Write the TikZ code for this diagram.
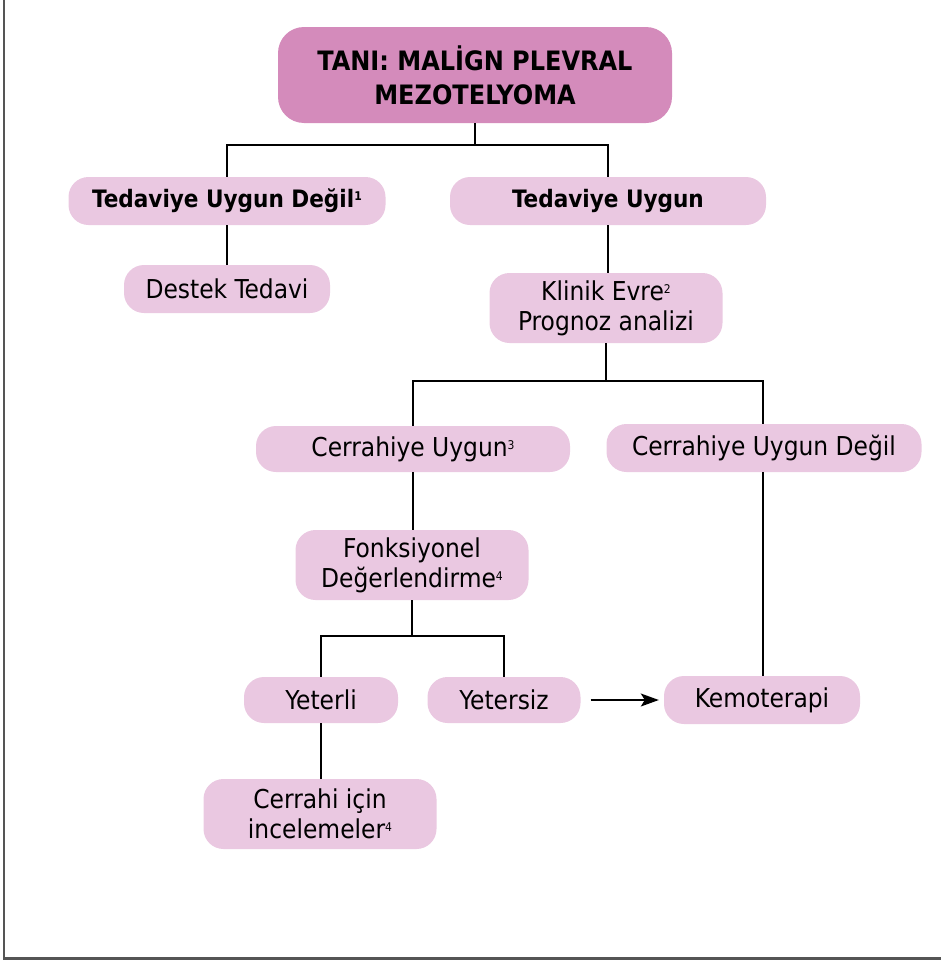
\documentclass[tikz,border=0pt]{standalone}
\usepackage{fontspec}
\setmainfont{DejaVu Sans Condensed}
\usetikzlibrary{arrows.meta}
\definecolor{rootfill}{HTML}{D48BBB}
\definecolor{boxfill}{HTML}{EAC8E1}
\definecolor{framegray}{HTML}{555555}
\newcommand{\supnum}[1]{\raisebox{7pt}{\fontsize{12}{12}\selectfont #1}}
\tikzset{
  box/.style={rectangle, rounded corners=20pt, fill=boxfill, inner sep=0pt, align=center,
    font=\fontsize{26}{30}\selectfont},
  rootbox/.style={rectangle, rounded corners=26pt, fill=rootfill, inner sep=0pt, align=center,
    font=\fontsize{26.7}{34}\selectfont\bfseries},
  boldbox/.style={box, font=\fontsize{24}{30}\selectfont\bfseries},
  conn/.style={draw=black, line width=1.4pt},
}
\begin{document}
\begin{tikzpicture}[x=1pt,y=-1pt]
\useasboundingbox (0,0) rectangle (941,961);
\draw[framegray, line width=2.5pt] (4,0) -- (4,958.5) -- (941,958.5);

\node[rootbox, minimum width=394pt, minimum height=96pt] (root) at (475,75) {TANI: MALİGN PLEVRAL\\MEZOTELYOMA};
\node[boldbox, minimum width=317pt, minimum height=48pt] (tud) at (227,201) {Tedaviye Uygun Değil\supnum{1}};
\node[boldbox, minimum width=316pt, minimum height=48pt] (tu) at (608,201) {Tedaviye Uygun};
\node[box, minimum width=206pt, minimum height=48pt] (dt) at (227,289) {Destek Tedavi};
\node[box, minimum width=233pt, minimum height=70pt] (ke) at (606,308) {Klinik Evre\supnum{2}\\Prognoz analizi};
\node[box, minimum width=314pt, minimum height=46pt] (cu) at (413,449) {Cerrahiye Uygun\supnum{3}};
\node[box, minimum width=315pt, minimum height=48pt] (cud) at (764,448) {Cerrahiye Uygun Değil};
\node[box, minimum width=233pt, minimum height=70pt] (fd) at (412,565) {Fonksiyonel\\Değerlendirme\supnum{4}};
\node[box, minimum width=154pt, minimum height=46pt] (ye) at (321,700) {Yeterli};
\node[box, minimum width=153pt, minimum height=46pt] (ys) at (504,700) {Yetersiz};
\node[box, minimum width=196pt, minimum height=48pt] (km) at (762,700) {Kemoterapi};
\node[box, minimum width=233pt, minimum height=70pt] (ci) at (320,814) {Cerrahi için\\incelemeler\supnum{4}};

\coordinate (j1) at (475,145);
\coordinate (j2) at (606,381);
\coordinate (j3) at (412,636);
\draw[conn] (root.south) -- (j1);
\draw[conn] (j1) -| (tud.north);
\draw[conn] (j1) -| (tu.north);
\draw[conn] (tud.south) -- (dt.north);
\draw[conn] (tu.south) -- (tu.south |- ke.north);
\draw[conn] (ke.south) -- (j2);
\draw[conn] (j2) -| (cu.north);
\draw[conn] (j2) -| ([xshift=-1pt]cud.north);
\draw[conn] (cu.south) -- (cu.south |- fd.north);
\draw[conn] (fd.south) -- (j3);
\draw[conn] (j3) -| (ye.north);
\draw[conn] (j3) -| (ys.north);
\draw[conn] ([xshift=-1pt]cud.south) -- ([xshift=-1pt]cud.south |- km.north);
\draw[conn] (ye.south) -- (ye.south |- ci.north);
\draw[conn, -{Stealth[length=18pt,width=13pt,inset=4pt]}] ([xshift=10pt]ys.east) -- ([xshift=-5pt]ys.east -| km.west);
\end{tikzpicture}
\end{document}
